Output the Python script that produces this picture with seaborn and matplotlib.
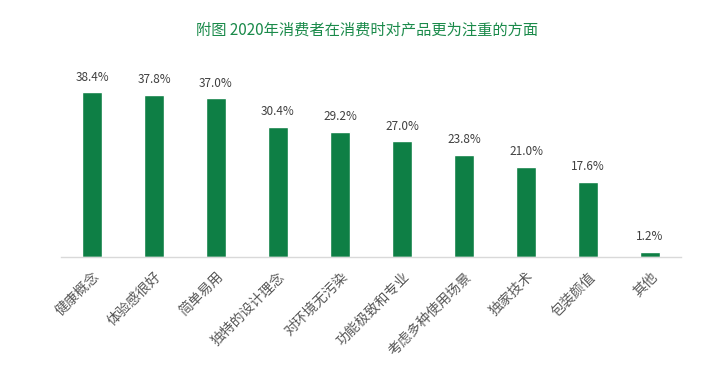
import matplotlib
matplotlib.use("Agg")
import matplotlib.pyplot as plt
import seaborn as sns
import pandas as pd

categories = ["健康概念", "体验感很好", "简单易用", "独特的设计理念", "对环境无污染",
              "功能极致和专业", "考虑多种使用场景", "独家技术", "包装颜值", "其他"]
values = [38.4, 37.8, 37.0, 30.4, 29.2, 27.0, 23.8, 21.0, 17.6, 1.2]

df = pd.DataFrame({"aspect": categories, "pct": values})

sns.set_style("white")
plt.rcParams["font.family"] = ["Noto Sans CJK SC", "DejaVu Sans"]

fig = plt.figure(figsize=(7.12, 3.83), dpi=100)
ax = fig.add_axes([61 / 712, 1 - 257 / 383, 620 / 712, 193 / 383])

sns.barplot(data=df, x="aspect", y="pct", color="#0e7f45", width=0.32,
            saturation=1, ax=ax)

for i, v in enumerate(values):
    ax.text(i, v + 2.0, f"{v:.1f}%", ha="center", va="bottom",
            fontsize=8.5, color="#404040")

ax.set_ylim(0, 45)
ax.set_xlim(-0.5, len(categories) - 0.5)
ax.set_xlabel("")
ax.set_ylabel("")
ax.set_yticks([])
for s in ["left", "right", "top"]:
    ax.spines[s].set_visible(False)
ax.spines["bottom"].set_color("#d9d9d9")
ax.spines["bottom"].set_linewidth(1)
ax.tick_params(axis="x", length=0, pad=9)
ax.set_xticks(range(len(categories)))
ax.set_xticklabels(categories, rotation=45, ha="right", rotation_mode="anchor",
                   fontsize=10, color="#595959")

fig.text(367 / 712, 1 - 30 / 383, "附图 2020年消费者在消费时对产品更为注重的方面",
         ha="center", va="center", fontsize=11, color="#1a8a4a")

fig.savefig("out.png", dpi=100)
